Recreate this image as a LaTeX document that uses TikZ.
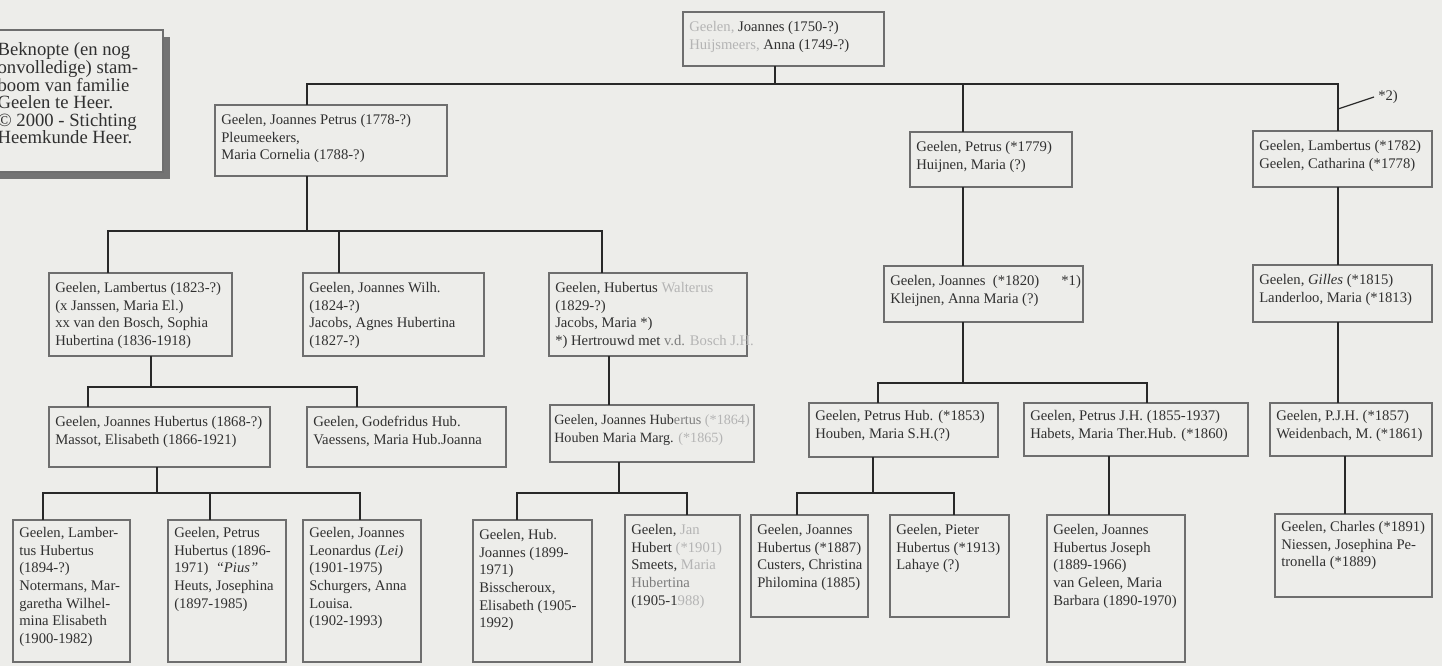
\documentclass[tikz,border=0pt]{standalone}
\usepackage{fontspec}
\setmainfont{Liberation Serif}
\usepackage{tikz}
\usetikzlibrary{positioning,fit,shadows}
\definecolor{paper}{RGB}{237,237,234}
\definecolor{ink}{RGB}{40,40,40}
\definecolor{rim}{RGB}{110,110,110}
\definecolor{words}{RGB}{48,48,48}
\definecolor{faded}{RGB}{180,180,180}
\definecolor{halfway}{RGB}{125,125,125}
\newcommand{\fd}[1]{\textcolor{faded}{#1}}
\newcommand{\fe}[1]{\textcolor{halfway}{#1}}
\tikzstyle{person} = [draw=rim, line width=1pt, inner sep=0pt]
\tikzstyle{legend} = [draw=rim, line width=1pt, inner sep=0pt, fill=paper, drop shadow={shadow xshift=5.5pt, shadow yshift=-5.5pt, fill=black!55, opacity=1}]
\tikzstyle{names} = [inner sep=0pt, align=left, text=words, font=\fontsize{11}{13.2}\selectfont]
\tikzstyle{blurb} = [inner sep=0pt, align=left, text=words, font=\fontsize{14}{13.2}\selectfont]
\tikzstyle{tedge} = [draw=ink, line width=1.5pt, line cap=rect]
\tikzstyle{tnote} = [draw=ink, line width=0.9pt]

\begin{document}
\begin{tikzpicture}[x=0.75pt, y=-0.75pt]

% paper =============================
\fill[paper] (0,0) rectangle (1442,666);
\useasboundingbox (0,0) rectangle (1442,666);

% legend
\node[legend, fit={(-10,30) (163,172)}] (leg) {};
\node[blurb, below right=10pt and 6pt of leg.north west] (leg-t) {Beknopte (en nog\\onvolledige) stam-\\boom van familie\\Geelen te Heer.\\\textcopyright{} 2000 - Stichting\\Heemkunde Heer.};

% generation 0
\node[person, fit={(683,12) (884,66)}] (top) {};
\node[names, below right=7.5pt and 5pt of top.north west] (top-t) {\fd{Geelen,} Joannes (1750-?)\\\fd{Huijsmeers,} Anna (1749-?)};

% generation 1
\node[person, fit={(215,105) (447,176)}] (jp) {};
\node[names, below right=7.5pt and 5pt of jp.north west] (jp-t) {Geelen, Joannes Petrus (1778-?)\\Pleumeekers,\\Maria Cornelia (1788-?)};
\node[person, fit={(910,132) (1072,187)}] (pe) {};
\node[names, below right=7.5pt and 5pt of pe.north west] (pe-t) {Geelen, Petrus (*1779)\\Huijnen, Maria (?)};
\node[person, fit={(1253,131) (1432,187)}] (la) {};
\node[names, below right=7.5pt and 5pt of la.north west] (la-t) {Geelen, Lambertus (*1782)\\Geelen, Catharina (*1778)};

% generation 2
\node[person, fit={(49,273) (232,356)}] (lam23) {};
\node[names, below right=7.5pt and 5pt of lam23.north west] (lam23-t) {Geelen, Lambertus (1823-?)\\(x Janssen, Maria El.)\\xx van den Bosch, Sophia\\Hubertina (1836-1918)};
\node[person, fit={(303,273) (484,356)}] (jw) {};
\node[names, below right=7.5pt and 5pt of jw.north west] (jw-t) {Geelen, Joannes Wilh.\\(1824-?)\\Jacobs, Agnes Hubertina\\(1827-?)};
\node[person, fit={(549,273) (747,356)}] (hw) {};
\node[names, below right=7.5pt and 5pt of hw.north west] (hw-t) {Geelen, Hubertus \fd{Walterus}\\(1829-?)\\Jacobs, Maria *)\\*) Hertrouwd met \fe{v.d.} \fd{Bosch J.H.}};
\node[person, fit={(884,266) (1083,322)}] (jo20) {};
\node[names, below right=7.5pt and 5pt of jo20.north west] (jo20-t) {Geelen, Joannes\enspace(*1820)\quad\enspace*1)\\Kleijnen, Anna Maria (?)};
\node[person, fit={(1253,265) (1432,322)}] (gil) {};
\node[names, below right=7.5pt and 5pt of gil.north west] (gil-t) {Geelen, \textit{Gilles} (*1815)\\Landerloo, Maria (*1813)};

% generation 3
\node[person, fit={(49,407) (270,467)}] (jh68) {};
\node[names, below right=7.5pt and 5pt of jh68.north west] (jh68-t) {Geelen, Joannes Hubertus (1868-?)\\Massot, Elisabeth (1866-1921)};
\node[person, fit={(307,407) (506,467)}] (gh) {};
\node[names, below right=7.5pt and 5pt of gh.north west] (gh-t) {Geelen, Godefridus Hub.\\Vaessens, Maria Hub.Joanna};
\node[person, fit={(550,405) (754,462)}] (jh64) {};
\node[names, font=\fontsize{10.6}{13.2}\selectfont, below right=7.5pt and 3.5pt of jh64.north west] (jh64-t) {Geelen, Joannes Hub\fe{ertus} \fd{(*1864)}\\Houben Maria Marg. \fd{(*1865)}};
\node[person, fit={(809,403) (998,457)}] (ph53) {};
\node[names, below right=6pt and 5pt of ph53.north west] (ph53-t) {Geelen, Petrus Hub. (*1853)\\Houben, Maria S.H.(?)};
\node[person, fit={(1024,403) (1248,456)}] (pjh55) {};
\node[names, below right=6pt and 5pt of pjh55.north west] (pjh55-t) {Geelen, Petrus J.H. (1855-1937)\\Habets, Maria Ther.Hub. (*1860)};
\node[person, fit={(1270,403) (1432,456)}] (pjh57) {};
\node[names, below right=6pt and 5pt of pjh57.north west] (pjh57-t) {Geelen, P.J.H. (*1857)\\Weidenbach, M. (*1861)};

% generation 4
\node[person, fit={(13,520) (130,662)}] (lh) {};
\node[names, below right=6pt and 5pt of lh.north west] (lh-t) {Geelen, Lamber-\\tus Hubertus\\(1894-?)\\Notermans, Mar-\\garetha Wilhel-\\mina Elisabeth\\(1900-1982)};
\node[person, fit={(168,520) (286,662)}] (ph) {};
\node[names, below right=6pt and 5pt of ph.north west] (ph-t) {Geelen, Petrus\\Hubertus (1896-\\1971)\enspace\textit{``Pius''}\\Heuts, Josephina\\(1897-1985)};
\node[person, fit={(303,520) (421,662)}] (jl) {};
\node[names, below right=6pt and 5pt of jl.north west] (jl-t) {Geelen, Joannes\\Leonardus \textit{(Lei)}\\(1901-1975)\\Schurgers, Anna\\Louisa.\\(1902-1993)};
\node[person, fit={(473,520) (592,662)}] (hj) {};
\node[names, below right=7.5pt and 5pt of hj.north west] (hj-t) {Geelen, Hub.\\Joannes (1899-\\1971)\\Bisscheroux,\\Elisabeth (1905-\\1992)};
\node[person, fit={(625,515) (740,662)}] (jan) {};
\node[names, below right=7.5pt and 5pt of jan.north west] (jan-t) {Geelen, \fd{Jan}\\Hubert \fd{(*1901)}\\Smeets, \fd{Maria}\\\fe{Hubertina}\\(1905-1\fd{988)}};
\node[person, fit={(751,515) (868,617)}] (jh87) {};
\node[names, below right=7.5pt and 5pt of jh87.north west] (jh87-t) {Geelen, Joannes\\Hubertus (*1887)\\Custers, Christina\\Philomina (1885)};
\node[person, fit={(890,515) (1009,617)}] (pi) {};
\node[names, below right=7.5pt and 5pt of pi.north west] (pi-t) {Geelen, Pieter\\Hubertus (*1913)\\Lahaye (?)};
\node[person, fit={(1047,515) (1185,662)}] (jhj) {};
\node[names, below right=7.5pt and 5pt of jhj.north west] (jhj-t) {Geelen, Joannes\\Hubertus Joseph\\(1889-1966)\\van Geleen, Maria\\Barbara (1890-1970)};
\node[person, fit={(1275,514) (1432,597)}] (ch) {};
\node[names, below right=6pt and 5pt of ch.north west] (ch-t) {Geelen, Charles (*1891)\\Niessen, Josephina Pe-\\tronella (*1889)};

% family bars (parent stem x, bar y)
\coordinate (bar0) at (775,84);
\coordinate (bar1) at (307,231);
\coordinate (bar2) at (151,387);
\coordinate (bar3) at (157,493);
\coordinate (bar4) at (619,493);
\coordinate (bar5) at (963,383);
\coordinate (bar6) at (873,493);

% edges
\path[tedge] (top.south -| bar0) -- (bar0);
\path[tedge] (jp.north -| 307,0) |- (bar0);
\path[tedge] (pe.north -| 963,0) |- (bar0);
\path[tedge] (la.north -| 1338,0) |- (bar0);

\path[tedge] (jp.south -| bar1) -- (bar1);
\path[tedge] (lam23.north -| 108,0) |- (bar1);
\path[tedge] (jw.north -| 339,0) |- (bar1);
\path[tedge] (hw.north -| 602,0) |- (bar1);

\path[tedge] (lam23.south -| bar2) -- (bar2);
\path[tedge] (jh68.north -| 88,0) |- (bar2);
\path[tedge] (gh.north -| 357,0) |- (bar2);

\path[tedge] (jh68.south -| bar3) -- (bar3);
\path[tedge] (lh.north -| 43,0) |- (bar3);
\path[tedge] (ph.north -| 210,0) |- (bar3);
\path[tedge] (jl.north -| 360,0) |- (bar3);

\path[tedge] (hw.south -| 609,0) -- (jh64.north -| 609,0);
\path[tedge] (jh64.south -| bar4) -- (bar4);
\path[tedge] (hj.north -| 517,0) |- (bar4);
\path[tedge] (jan.north -| 687,0) |- (bar4);

\path[tedge] (pe.south -| 963,0) -- (jo20.north -| 963,0);
\path[tedge] (jo20.south -| bar5) -- (bar5);
\path[tedge] (ph53.north -| 878,0) |- (bar5);
\path[tedge] (pjh55.north -| 1147,0) |- (bar5);

\path[tedge] (ph53.south -| bar6) -- (bar6);
\path[tedge] (jh87.north -| 797,0) |- (bar6);
\path[tedge] (pi.north -| 954,0) |- (bar6);
\path[tedge] (pjh55.south -| 1109,0) -- (jhj.north -| 1109,0);

\path[tedge] (la.south -| 1338,0) -- (gil.north -| 1338,0);
\path[tedge] (gil.south -| 1338,0) -- (pjh57.north -| 1338,0);
\path[tedge] (pjh57.south -| 1345,0) -- (ch.north -| 1345,0);

% note *2)
\coordinate (k2) at (1338,109);
\node[names, anchor=west] (n2) at (1378,97) {*2)};
\path[tnote] (k2) -- ([xshift=-3pt]n2.west);

\end{tikzpicture}
\end{document}
